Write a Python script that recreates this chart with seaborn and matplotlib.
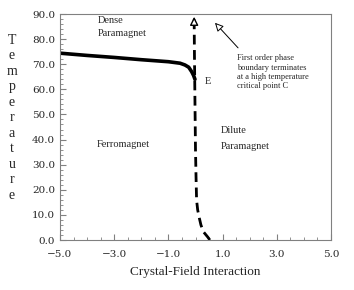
import numpy as np
import pandas as pd
import seaborn as sns
import matplotlib.pyplot as plt
from matplotlib.ticker import FixedLocator, AutoMinorLocator, MultipleLocator, FuncFormatter

# first-order boundary (solid), ends at point E
solid_x = [-5.0, -4.0, -3.0, -2.0, -1.0, -0.57, -0.39, -0.25, -0.14, -0.07, -0.02]
solid_t = [74.4, 73.5, 72.7, 71.8, 71.0, 70.4, 69.7, 68.8, 67.0, 65.5, 64.0]

# second-order boundary (dashed)
dash_x = [0.53, 0.45, 0.29, 0.2, 0.14, 0.08, 0.04, 0.02, 0.0, -0.02, -0.04, -0.05]
dash_t = [0.0, 1.2, 3.3, 6.0, 8.8, 12.0, 15.9, 25.0, 35.8, 55.0, 75.0, 88.0]

x_ticks = [-5.0, -3.0, -1.0, 1.0, 3.0, 5.0]
region_labels = ["Dense\nParamagnet", "Ferromagnet", "Dilute\nParamagnet", "E"]
note_text = "First order phase\nboundary terminates\nat a high temperature\ncritical point C"

sns.set_style("ticks")
plt.rcParams['font.family'] = ['Liberation Serif', 'DejaVu Serif']

fig, ax = plt.subplots(figsize=(3.54, 2.90), dpi=100)
fig.subplots_adjust(left=60 / 354, right=331 / 354, top=1 - 14 / 290, bottom=1 - 240 / 290)

df_solid = pd.DataFrame({"x": solid_x, "T": solid_t})
df_dash = pd.DataFrame({"x": dash_x, "T": dash_t})
sns.lineplot(data=df_solid, x="x", y="T", ax=ax, color="black", lw=2.6, sort=False)
sns.lineplot(data=df_dash, x="x", y="T", ax=ax, color="black", lw=2.0, sort=False,
             linestyle=(0, (3.5, 2)))

ax.annotate("", xy=(-0.05, 90), xytext=(-0.05, 86.5),
            arrowprops=dict(arrowstyle="-|>,head_length=0.5,head_width=0.25",
                            fc="white", ec="black", lw=1.0))
ax.annotate("", xy=(0.65, 87.3), xytext=(1.64, 75.7),
            arrowprops=dict(arrowstyle="-|>,head_length=0.5,head_width=0.25",
                            fc="white", ec="black", lw=0.7))

ax.text(-3.6, 84.9, region_labels[0], fontsize=7.5, va="center", ha="left", linespacing=1.6)
ax.text(-3.63, 38.2, region_labels[1], fontsize=7.5, va="center", ha="left")
ax.text(0.93, 40.4, region_labels[2], fontsize=7.5, va="center", ha="left", linespacing=1.9)
ax.text(0.33, 63.1, region_labels[3], fontsize=7.5, va="center", ha="left")
ax.text(1.52, 66.8, note_text, fontsize=6, va="center", ha="left", linespacing=1.2)

ax.set_xlim(-5, 5)
ax.set_ylim(0, 90)
ax.xaxis.set_major_locator(FixedLocator(x_ticks))
ax.xaxis.set_minor_locator(MultipleLocator(0.5))
ax.yaxis.set_major_locator(MultipleLocator(10))
ax.yaxis.set_minor_locator(AutoMinorLocator(5))
fmt = FuncFormatter(lambda v, p: f"{v:.1f}".replace("-", "\u2212"))
ax.xaxis.set_major_formatter(fmt)
ax.yaxis.set_major_formatter(fmt)
ax.tick_params(which="both", direction="in", color="#808080")
ax.tick_params(which="major", length=4)
ax.tick_params(which="minor", length=2.5)
ax.tick_params(axis="x", which="major", pad=7)
for lab in ax.get_xticklabels() + ax.get_yticklabels():
    lab.set_family(["DejaVu Serif"])
    lab.set_fontsize(7.5)
for s in ax.spines.values():
    s.set_color("#808080")
    s.set_linewidth(0.8)

ax.set_xlabel("Crystal-Field Interaction", fontsize=9.5, labelpad=5)
ax.set_ylabel("")
fig.text(12 / 354, 1 - 118 / 290, "\n".join("Temperature"), fontsize=10,
         ha="center", va="center", linespacing=1.25)

fig.savefig("out.png", dpi=100)
